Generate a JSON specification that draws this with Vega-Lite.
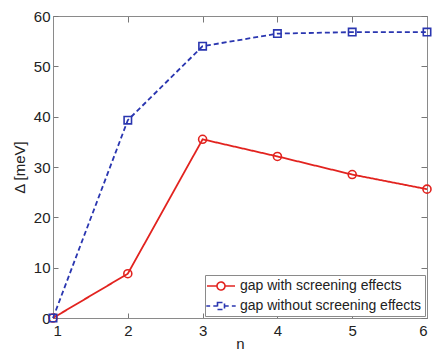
{
  "$schema": "https://vega.github.io/schema/vega-lite/v6.json",
  "autosize": "none",
  "width": 374,
  "height": 302,
  "padding": {"left": 53, "top": 16, "right": 7, "bottom": 32},
  "background": "white",
  "config": {
    "view": {"stroke": "#8a8a8a", "strokeWidth": 1},
    "font": "Liberation Sans",
    "axis": {
      "domainColor": "#8a8a8a",
      "tickColor": "#777777",
      "labelColor": "#222",
      "titleColor": "#222",
      "labelFont": "Liberation Sans",
      "titleFont": "Liberation Sans",
      "labelFontSize": 15,
      "titleFontSize": 15,
      "titleFontWeight": "normal",
      "grid": false
    }
  },
  "data": {
    "values": [
      {"n": 1, "gap": 0, "series": "gap with screening effects"},
      {"n": 2, "gap": 8.8, "series": "gap with screening effects"},
      {"n": 3, "gap": 35.5, "series": "gap with screening effects"},
      {"n": 4, "gap": 32.1, "series": "gap with screening effects"},
      {"n": 5, "gap": 28.5, "series": "gap with screening effects"},
      {"n": 6, "gap": 25.6, "series": "gap with screening effects"},
      {"n": 1, "gap": 0, "series": "gap without screening effects"},
      {"n": 2, "gap": 39.3, "series": "gap without screening effects"},
      {"n": 3, "gap": 54.0, "series": "gap without screening effects"},
      {"n": 4, "gap": 56.5, "series": "gap without screening effects"},
      {"n": 5, "gap": 56.8, "series": "gap without screening effects"},
      {"n": 6, "gap": 56.8, "series": "gap without screening effects"}
    ]
  },
  "layer": [
    {
      "mark": {"type": "line", "strokeWidth": 1.8},
      "encoding": {
        "x": {"field": "n", "type": "quantitative", "scale": {"domain": [1, 6], "nice": false},
              "axis": {"values": [1,2,3,4,5,6], "title": "n", "tickSize": -5, "labelPadding": 10, "titlePadding": -2}},
        "y": {"field": "gap", "type": "quantitative", "scale": {"domain": [0, 60], "nice": false},
              "axis": {"values": [0,10,20,30,40,50,60], "title": "Δ [meV]", "tickSize": -5, "labelPadding": 8, "titlePadding": 6}},
        "color": {"field": "series", "type": "nominal",
                  "scale": {"domain": ["gap with screening effects", "gap without screening effects"], "range": ["#e2231f", "#2a36b0"]},
                  "legend": {
                    "orient": "bottom-right", "title": null,
                    "offset": 2,
                    "fillColor": "white", "strokeColor": "#8a8a8a", "padding": 3,
                    "labelFontSize": 14, "labelFont": "Liberation Sans", "labelColor": "#222", "labelLimit": 400,
                    "symbolSize": 196, "symbolStrokeWidth": 1.6, "rowPadding": 4, "labelOffset": 16,
                    "encode": {"symbols": {"update": {
                      "shape": {"signal": "datum.value === 'gap with screening effects' ? 'M-2,0H-0.57M0.57,0H2M-0.57,0A0.57,0.57 0 1,1 0.57,0A0.57,0.57 0 1,1 -0.57,0' : 'M-2.1,0H-1.55M-1.1,0H-0.5M0.5,0H1.1M1.55,0H2.1M-0.5,-0.5H0.5V0.5H-0.5Z'"},
                      "fill": {"value": "transparent"},
                      "strokeDash": {"value": [1, 0]},
                      "xc": {"value": 13}
                    }}}
                  }},
        "strokeDash": {"field": "series", "type": "nominal",
                       "scale": {"domain": ["gap with screening effects", "gap without screening effects"], "range": [[1, 0], [5, 3]]},
                       "legend": null}
      }
    },
    {
      "mark": {"type": "point", "filled": false, "strokeWidth": 1.6, "opacity": 1, "shape": "circle"},
      "transform": [{"filter": "datum.series === 'gap with screening effects'"}],
      "encoding": {
        "x": {"field": "n", "type": "quantitative",
              "axis": {"orient": "top", "values": [1,2,3,4,5,6], "labels": false, "title": null, "tickSize": -6}},
        "y": {"field": "gap", "type": "quantitative",
              "axis": {"orient": "right", "values": [0,10,20,30,40,50,60], "labels": false, "title": null, "tickSize": -6}},
        "color": {"field": "series", "type": "nominal", "legend": null},
        "size": {"value": 64}
      }
    },
    {
      "mark": {"type": "point", "filled": false, "strokeWidth": 1.6, "opacity": 1, "shape": "square"},
      "transform": [{"filter": "datum.series === 'gap without screening effects'"}],
      "encoding": {
        "x": {"field": "n", "type": "quantitative", "axis": null},
        "y": {"field": "gap", "type": "quantitative", "axis": null},
        "color": {"field": "series", "type": "nominal", "legend": null},
        "size": {"value": 55}
      }
    }
  ],
  "resolve": {"axis": {"x": "independent", "y": "independent"}}
}
